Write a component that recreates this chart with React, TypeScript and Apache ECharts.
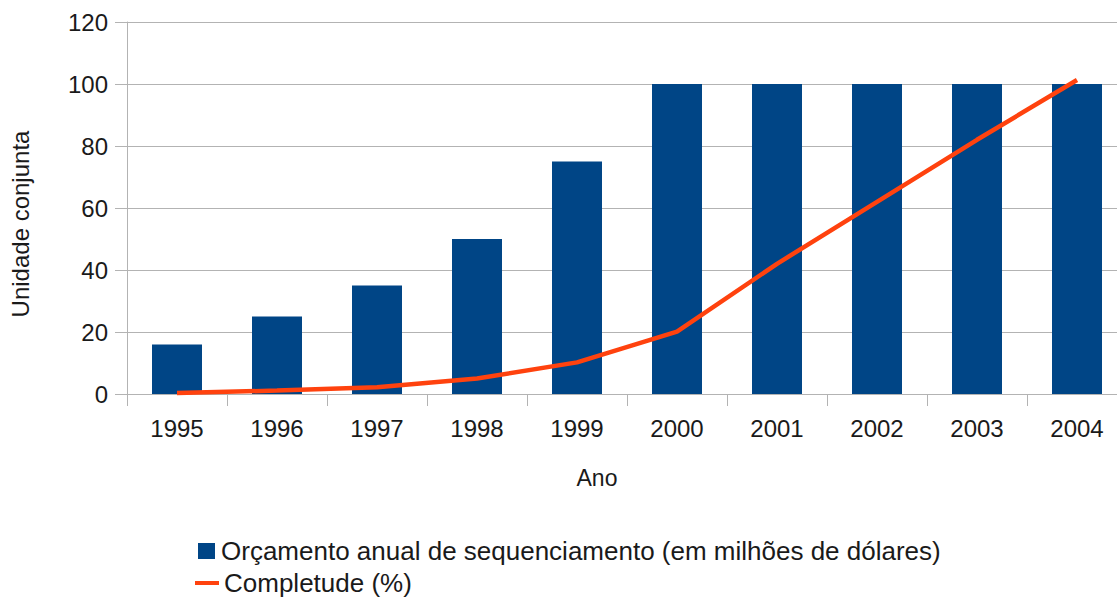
import React, { useEffect, useRef } from "react";
import * as echarts from "echarts";

const years = ["1995", "1996", "1997", "1998", "1999", "2000", "2001", "2002", "2003", "2004"];
const budget = [16, 25, 35, 50, 75, 100, 100, 100, 100, 100];
const completeness = [0.3, 1.1, 2.2, 5, 10.2, 20.1, 42, 62, 82, 101.3];
const budgetName = "Orçamento anual de sequenciamento (em milhões de dólares)";
const completeName = "Completude (%)";
const yTitle = "Unidade conjunta";
const xTitle = "Ano";

const FONT = "Liberation Sans, Arial, sans-serif";
const TEXT = "#1a1a1a";
const GRID = "#b3b3b3";

export default function App() {
  const ref = useRef<HTMLDivElement>(null);
  useEffect(() => {
    const chart = echarts.init(ref.current!, null, { renderer: "svg" });
    chart.setOption({
      animation: false,
      backgroundColor: "#ffffff",
      textStyle: { fontFamily: FONT, color: TEXT },
      grid: { left: 127, top: 22, width: 1000, height: 372, containLabel: false },
      xAxis: {
        type: "category",
        data: years,
        boundaryGap: true,
        axisLine: { lineStyle: { color: GRID, width: 1 } },
        axisTick: { show: true, length: 12, lineStyle: { color: GRID } },
        axisLabel: { color: TEXT, fontSize: 24, fontFamily: FONT, margin: 22 },
        splitLine: { show: false },
      },
      yAxis: {
        type: "value",
        min: 0,
        max: 120,
        interval: 20,
        axisLine: { show: true, lineStyle: { color: GRID, width: 1 } },
        axisTick: { show: true, length: 12, lineStyle: { color: GRID } },
        axisLabel: { color: TEXT, fontSize: 24, fontFamily: FONT, margin: 19 },
        splitLine: { show: true, lineStyle: { color: GRID, width: 1 } },
      },
      legend: [
        {
          data: [budgetName],
          orient: "vertical",
          left: 198,
          top: 538,
          padding: 0,
          icon: "rect",
          itemWidth: 17,
          itemHeight: 16,
          textStyle: { fontSize: 26, color: TEXT, fontFamily: FONT, padding: [0, 0, 0, 1] },
          selectedMode: false,
        },
        {
          data: [completeName],
          orient: "vertical",
          left: 195,
          top: 570,
          padding: 0,
          icon: "rect",
          itemWidth: 24,
          itemHeight: 4,
          textStyle: { fontSize: 26, color: TEXT, fontFamily: FONT },
          selectedMode: false,
        },
      ],
      graphic: [
        {
          type: "text",
          x: 20,
          y: 224,
          rotation: Math.PI / 2,
          style: {
            text: yTitle,
            fontSize: 24,
            fontFamily: FONT,
            fill: TEXT,
            align: "center",
            verticalAlign: "middle",
          },
        },
        {
          type: "text",
          x: 597,
          y: 478,
          style: {
            text: xTitle,
            fontSize: 23,
            fontFamily: FONT,
            fill: TEXT,
            align: "center",
            verticalAlign: "middle",
          },
        },
      ],
      series: [
        {
          name: budgetName,
          type: "bar",
          data: budget,
          barWidth: "50%",
          itemStyle: { color: "#004586" },
        },
        {
          name: completeName,
          type: "line",
          data: completeness,
          showSymbol: false,
          symbol: "none",
          lineStyle: { color: "#ff420e", width: 4.5 },
          itemStyle: { color: "#ff420e" },
        },
      ],
    });
    return () => chart.dispose();
  }, []);
  return (
    <div
      style={{
        position: "absolute",
        left: 0,
        top: 0,
        width: 1117,
        height: 599,
        overflow: "hidden",
      }}
    >
      <div ref={ref} style={{ width: 1140, height: 599 }} />
    </div>
  );
}
